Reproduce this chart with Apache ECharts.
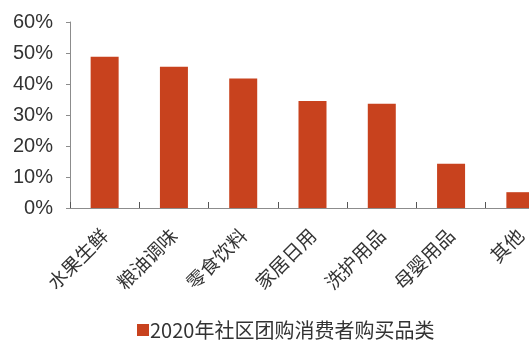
<!DOCTYPE html>
<html>
<head>
<meta charset="utf-8">
<script src="https://cdn.jsdelivr.net/npm/echarts@6/dist/echarts.min.js"></script>
<style>
  html, body { margin: 0; padding: 0; background: #fff; overflow: hidden; }
  /* the plot runs past the right edge, so the last bar is partly cut off */
  #chart { width: 556px; height: 341px; }
</style>
</head>
<body>
<div id="chart"></div>
<script>
// 2020 community group-buying: share of consumers buying each category
const categories = ['水果生鲜', '粮油调味', '零食饮料', '家居日用', '洗护用品', '母婴用品', '其他'];
const shares = [48.8, 45.6, 41.8, 34.5, 33.6, 14.3, 5.1];
const seriesName = '2020年社区团购消费者购买品类';
const yTicks = { min: 0, max: 60, interval: 10 };

const chart = echarts.init(document.getElementById('chart'), null, { renderer: 'canvas' });
chart.setOption({
  animation: false,
  backgroundColor: '#ffffff',
  grid: { left: 70, right: 1, top: 22, bottom: 133, containLabel: false },
  legend: {
    data: [{ name: seriesName, icon: 'rect' }],
    left: 132, top: 315,
    itemWidth: 12, itemHeight: 12,
    textStyle: { fontSize: 20, color: '#333', fontFamily: '"Noto Sans CJK SC", sans-serif', padding: [0, 0, 0, -4] }
  },
  xAxis: {
    type: 'category',
    data: categories,
    axisLine: { lineStyle: { color: '#8c8c8c', width: 1 } },
    axisTick: { show: true, inside: true, length: 6, alignWithLabel: false, lineStyle: { color: '#555' } },
    axisLabel: {
      rotate: 45, margin: 24, fontSize: 19, color: '#333',
      fontFamily: '"Noto Sans CJK SC", sans-serif', interval: 0
    }
  },
  yAxis: {
    type: 'value',
    min: yTicks.min, max: yTicks.max, interval: yTicks.interval,
    axisLine: { show: true, lineStyle: { color: '#8c8c8c', width: 1 } },
    axisTick: { show: true, length: 4, lineStyle: { color: '#8c8c8c' } },
    splitLine: { show: false },
    axisLabel: {
      formatter: '{value}%', fontSize: 20, color: '#333', margin: 17,
      fontFamily: '"Liberation Sans", Arial, sans-serif'
    }
  },
  series: [{
    name: seriesName,
    type: 'bar',
    data: shares,
    barWidth: 28,
    itemStyle: { color: '#c8421e' }
  }]
});
</script>
</body>
</html>
